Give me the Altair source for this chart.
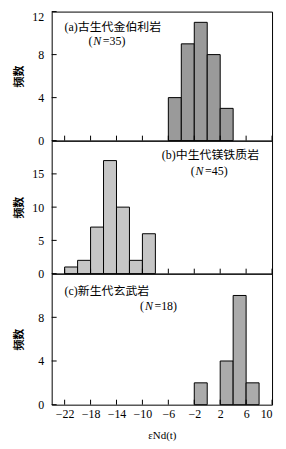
import altair as alt
import pandas as pd

# ---- data ----
bin_width = 2
a_start = [-6, -4, -2, 0, 2]
a_count = [4, 9, 11, 8, 3]
b_start = [-22, -20, -18, -16, -14, -12, -10]
b_count = [1, 2, 7, 17, 10, 2, 6]
c_start = [-2, 2, 4, 6]
c_count = [2, 4, 10, 2]

x_ticks = [-22, -18, -14, -10, -6, -2, 2, 6, 10]
a_yticks = [0, 4, 8, 12]
b_yticks = [0, 5, 10, 15]
c_yticks = [0, 4, 8]

a_label, a_n = "(a)古生代金伯利岩", "=35)"
b_label, b_n = "(b)中生代镁铁质岩", "=45)"
c_label, c_n = "(c)新生代玄武岩", "=18)"

x_title = "εNd(t)"
y_title = "频数"

W = 222
SERIF = "Liberation Serif"
MIX = "Liberation Serif, Noto Sans CJK SC"


def panel(starts, counts, ydom, yticks, H, fill, label, nstr, lx, ly, nx, ny, show_x):
    df = pd.DataFrame({"start": starts, "count": counts})
    df["end"] = df["start"] + bin_width
    df["base"] = 0
    xscale = alt.Scale(domain=[-24, 10], nice=False, zero=False)
    yscale = alt.Scale(domain=ydom, nice=False, zero=False)
    if show_x:
        xaxis = alt.Axis(values=x_ticks, title=x_title, tickSize=0, domain=False,
                         grid=False, labelPadding=4, labelFont=SERIF, labelFontSize=12,
                         titleFont=SERIF, titleFontSize=11, titleFontWeight="normal",
                         titlePadding=10, labelColor="black", titleColor="black")
    else:
        xaxis = None
    top = ydom[1]
    yaxis = alt.Axis(values=yticks, title=y_title, tickSize=0, domain=False, grid=False,
                     labelPadding=8, labelFont=SERIF, labelFontSize=12, labelColor="black",
                     labelBaseline=alt.condition(f"datum.value == {top}", alt.value("top"), alt.value("middle")),
                     titleFont="Noto Sans CJK SC", titleFontSize=11, titleFontWeight="bold",
                     titleColor="black", titlePadding=5, minExtent=22, maxExtent=22)

    bars = alt.Chart(df).mark_bar(fill=fill, stroke="black", strokeWidth=1).encode(
        x=alt.X("start:Q", scale=xscale, axis=xaxis),
        x2="end:Q",
        y=alt.Y("count:Q", scale=yscale, axis=yaxis),
        y2="base:Q",
    )
    xt = alt.Chart(pd.DataFrame({"v": x_ticks})).mark_rule(color="black").encode(
        x=alt.X("v:Q", scale=xscale, axis=xaxis),
        y=alt.value(H), y2=alt.value(H - 5),
    )
    yt = alt.Chart(pd.DataFrame({"v": yticks})).mark_rule(color="black").encode(
        y=alt.Y("v:Q", scale=yscale, axis=yaxis),
        x=alt.value(0), x2=alt.value(5),
    )
    t1 = alt.Chart(pd.DataFrame({"t": [label]})).mark_text(
        font=MIX, fontSize=12, align="left", baseline="middle", color="black"
    ).encode(text="t:N", x=alt.value(lx), y=alt.value(ly))
    t2 = alt.Chart(pd.DataFrame({"t": ["("]})).mark_text(
        font=SERIF, fontSize=12, align="left", baseline="middle", color="black"
    ).encode(text="t:N", x=alt.value(nx), y=alt.value(ny))
    t3 = alt.Chart(pd.DataFrame({"t": ["N"]})).mark_text(
        font=SERIF, fontSize=12, fontStyle="italic", align="left", baseline="middle", color="black"
    ).encode(text="t:N", x=alt.value(nx + 5), y=alt.value(ny))
    t4 = alt.Chart(pd.DataFrame({"t": [nstr]})).mark_text(
        font=SERIF, fontSize=12, align="left", baseline="middle", color="black"
    ).encode(text="t:N", x=alt.value(nx + 14.5), y=alt.value(ny))
    return alt.layer(bars, xt, yt, t1, t2, t3, t4).properties(width=W, height=H)


pa = panel(a_start, a_count, [0, 12], a_yticks, 130, "#9a9a9a", a_label, a_n, 13, 16, 37, 30, False)
pb = panel(b_start, b_count, [0, 20], b_yticks, 134, "#c6c6c6", b_label, b_n, 111, 15, 140, 31, False)
pc = panel(c_start, c_count, [0, 12], c_yticks, 132, "#ababab", c_label, c_n, 13, 18, 89, 33, True)

chart = alt.vconcat(pa, pb, pc, spacing=0, bounds="flush").properties(
    padding={"left": 5, "top": 0, "right": 5, "bottom": 0},
    background="white",
).configure_view(stroke="black", strokeWidth=1)

chart.save("out.html", embed_options={"renderer": "svg", "actions": False})
